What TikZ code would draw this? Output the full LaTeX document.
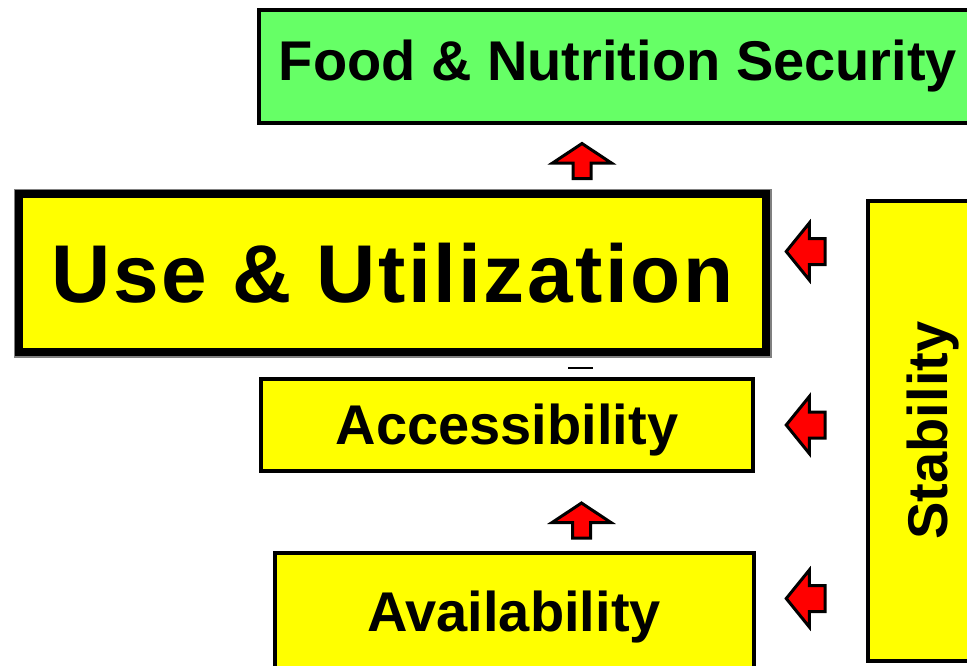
\documentclass[tikz,border=0pt]{standalone}
\usepackage{fontspec}
\setmainfont{Liberation Sans}
\newfontfamily\widesans[LetterSpace=3]{Liberation Sans}
\usetikzlibrary{shapes.arrows, positioning}

\definecolor{fnsgreen}{HTML}{66FF66}
\definecolor{pillaryellow}{HTML}{FFFF00}

\begin{document}
\begin{tikzpicture}[x=1pt, y=-1pt, on grid,
  pillar/.style={draw, line width=4, fill=pillaryellow, inner sep=0,
    text height=40, text depth=0, font=\bfseries\fontsize{56}{60}\selectfont},
  goal/.style={pillar, fill=fnsgreen},
  uparr/.style={single arrow, draw, line width=3, fill=red, inner xsep=0, inner ysep=7.5,
    minimum height=35, single arrow head extend=20.5, single arrow tip angle=113, rotate=90},
  leftarr/.style={single arrow, draw, line width=3, fill=red, inner xsep=0, inner ysep=11.5,
    minimum height=39, single arrow head extend=15.5, single arrow tip angle=102, rotate=180}]
	\useasboundingbox (0,0) rectangle (967,665);
	\clip (0,0) rectangle (967,665);
	
	\node[goal, minimum width=718, minimum height=113, text depth=13] (fns) at (618,66.5) {Food \& Nutrition Security};
	\node[pillar, line width=8, minimum width=747, minimum height=158, text height=59,
	  preaction={draw=gray, line width=11},
	  font=\widesans\bfseries\fontsize{82}{90}\selectfont] (use) at (392.5,273) {Use \& Utilization};
	\node[pillar, minimum width=491.5, minimum height=92] (acc) at (507,424.5) {Accessibility};
	\node[pillar, minimum width=479, minimum height=118] (avail) at (514,611.5) {Availability};
	\node[pillar, rotate=90, minimum width=460, minimum height=118] (stab) at (927,430.5) {Stability\hspace{9pt}};
	
	% upward arrows
	\node[uparr] (up1) at (582,164) {};
	\node[uparr] (up2) at (581.5,523.5) {};
	
	% arrows from stability
	\node[leftarr] (l2) at (811,425) {};
	\node[leftarr, above=173.5 of l2] (l1) {};
	\node[leftarr, below=173.5 of l2] (l3) {};
	
	\draw[line width=2] (568,368) -- (593,368);
\end{tikzpicture}
\end{document}
